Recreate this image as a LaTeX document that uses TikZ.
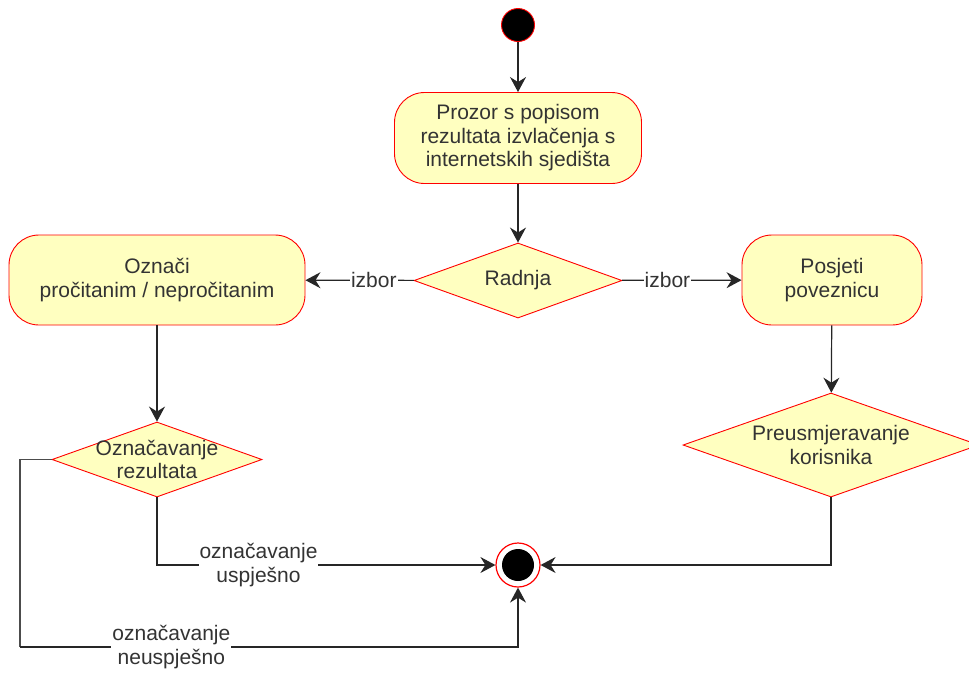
\documentclass[tikz,border=0pt]{standalone}
\usepackage{fontspec}
\setmainfont{Liberation Sans}
\usetikzlibrary{shapes.geometric,arrows.meta}
\definecolor{boxfill}{HTML}{FFFFC0}
\definecolor{txtgray}{HTML}{333333}
\tikzset{
  activity/.style={draw=red, fill=boxfill, rounded corners=30pt, align=center,
    text=txtgray, line width=0.9pt},
  decision/.style={draw=red, fill=boxfill, shape=diamond, inner sep=0pt,
    line width=0.9pt},
  dtext/.style={align=center, text=txtgray},
  flow/.style={draw=black!85, line width=1.2pt,
    -{Stealth[length=15pt,width=16pt,inset=5pt]}},
  plain/.style={draw=black!70, line width=1.2pt},
  edgetext/.style={fill=white, inner sep=1pt, align=center, text=txtgray}
}
\begin{document}
\begin{tikzpicture}[x=1pt, y=-1pt, font=\fontsize{21}{23.5}\selectfont]
\useasboundingbox (0,0) rectangle (969,673);

% pocetak i kraj
\node[circle, fill=black, draw=red, line width=0.9pt, minimum size=33pt, inner sep=0pt] (start) at (518,25) {};
\node[circle, fill=white, draw=red, line width=1.2pt, minimum size=44pt, inner sep=0pt] (kraj) at (518,565) {};
\fill[black] (kraj) circle (16pt);

% aktivnosti
\node[activity, minimum width=247pt, minimum height=91pt] (popis) at (518,138)
  {Prozor s popisom\\rezultata izvlačenja s\\internetskih sjedišta};
\node[activity, minimum width=296pt, minimum height=90pt] (oznaci) at (157,280)
  {Označi\\pročitanim / nepročitanim};
\node[activity, minimum width=180pt, minimum height=90pt] (posjeti) at (832,280)
  {Posjeti\\poveznicu};

% odluke
\node[decision, minimum width=208pt, minimum height=75pt,
  label={[dtext]center:Radnja}] (radnja) at (518,280.5) {};
\node[decision, minimum width=210pt, minimum height=75pt,
  label={[dtext]center:Označavanje\\rezultata}] (oznacavanje) at (157,459.5) {};
\node[decision, minimum width=296pt, minimum height=104pt,
  label={[dtext]center:Preusmjeravanje\\korisnika}] (preusmj) at (831,445) {};

% prijelazi
\draw[flow] (start) -- (popis);
\draw[flow] (popis) -- (radnja);
\draw[flow] (radnja) -- node[edgetext, pos=0.37] {izbor} (oznaci);
\draw[flow] (radnja) -- node[edgetext, pos=0.38] {izbor} (posjeti);
\draw[flow] (oznaci) -- (oznacavanje);
\draw[flow] (posjeti) -- (preusmj);
\draw[flow] (preusmj.south) |- (kraj.east);
\draw[flow] (oznacavanje.south) |- node[edgetext, pos=0.65] {označavanje\\uspješno} (kraj.west);
\coordinate (dolje) at (20,647);
\draw[plain] (oznacavanje.west) -| (dolje);
\draw[flow] (dolje) -| node[edgetext, pos=0.152] {označavanje\\neuspješno} (kraj.south);
\end{tikzpicture}
\end{document}
